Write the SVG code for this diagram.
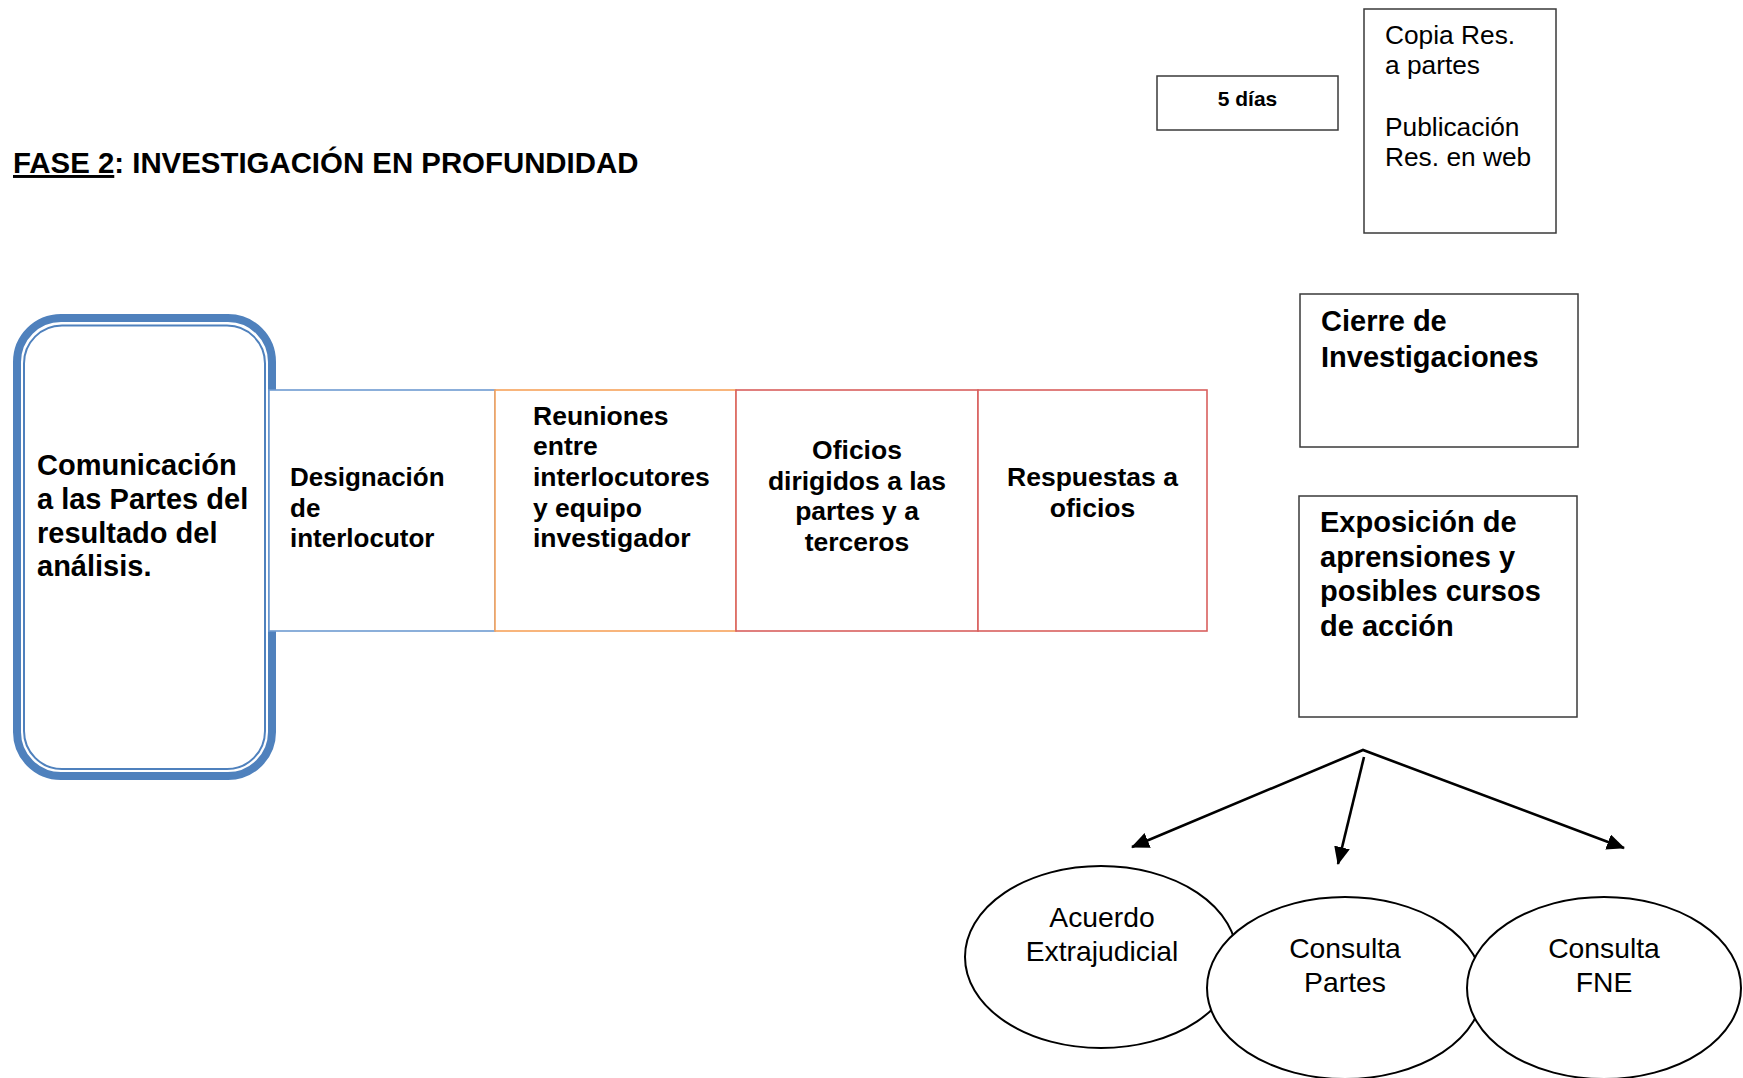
<svg xmlns="http://www.w3.org/2000/svg" width="1743" height="1078" viewBox="0 0 1743 1078">
<style>
  text { font-family: "Liberation Sans", Arial, sans-serif; fill: #000; }
  .b { font-weight: bold; }
  .box { fill: #fff; stroke: #3a3a3a; stroke-width: 1.5; }
  .blue { fill: #fff; stroke: #6F9BD1; stroke-width: 1.6; }
  .orange { fill: #fff; stroke: #F7A35C; stroke-width: 1.6; }
  .red { fill: #fff; stroke: #D9605E; stroke-width: 1.6; }
  .ell { fill: #fff; stroke: #000; stroke-width: 2; }
  .conn { fill: none; stroke: #000; stroke-width: 2.6; }
</style>
<defs>
  <marker id="ah" viewBox="0 0 18 16" refX="17" refY="8" markerWidth="18" markerHeight="16" markerUnits="userSpaceOnUse" orient="auto-start-reverse">
    <path d="M0,0 L18,8 L0,16 Z" fill="#000"/>
  </marker>
</defs>
<rect width="1743" height="1078" fill="#fff"/>

<g id="title">
  <text class="b" x="13" y="173" font-size="29.4"><tspan text-decoration="underline">FASE 2</tspan>: INVESTIGACIÓN EN PROFUNDIDAD</text>
</g>

<g id="cinco-dias">
  <rect class="box" x="1157" y="76" width="181" height="54"/>
  <text class="b" x="1247.5" y="106" font-size="21" text-anchor="middle">5 días</text>
</g>

<g id="copia">
  <rect class="box" x="1364" y="9" width="192" height="224"/>
  <text x="1385" y="44" font-size="26.3">Copia Res.</text>
  <text x="1385" y="74" font-size="26.3">a partes</text>
  <text x="1385" y="136" font-size="26.3">Publicación</text>
  <text x="1385" y="166" font-size="26.3">Res. en web</text>
</g>

<g id="cierre">
  <rect class="box" x="1300" y="294" width="278" height="153"/>
  <text class="b" x="1321" y="331" font-size="29">Cierre de</text>
  <text class="b" x="1321" y="367" font-size="29">Investigaciones</text>
</g>

<g id="exposicion">
  <rect class="box" x="1299" y="496" width="278" height="221"/>
  <text class="b" x="1320" y="532" font-size="29">Exposición de</text>
  <text class="b" x="1320" y="567" font-size="29">aprensiones y</text>
  <text class="b" x="1320" y="601" font-size="29">posibles cursos</text>
  <text class="b" x="1320" y="636" font-size="29">de acción</text>
</g>

<g id="comunicacion">
  <rect x="17" y="318" width="255" height="458" rx="44" ry="44" fill="#fff" stroke="#4F81BD" stroke-width="8"/>
  <rect x="24" y="325.5" width="241" height="443.5" rx="38" ry="38" fill="none" stroke="#4F81BD" stroke-width="2"/>
  <text class="b" x="37" y="475" font-size="29">Comunicación</text>
  <text class="b" x="37" y="509" font-size="29">a las Partes del</text>
  <text class="b" x="37" y="543" font-size="29">resultado del</text>
  <text class="b" x="37" y="576" font-size="29">análisis.</text>
</g>

<g id="designacion">
  <rect class="blue" x="269" y="390" width="226" height="241"/>
  <text class="b" x="290" y="486" font-size="26">Designación</text>
  <text class="b" x="290" y="517" font-size="26">de</text>
  <text class="b" x="290" y="547" font-size="26">interlocutor</text>
</g>

<g id="reuniones">
  <rect class="orange" x="495" y="390" width="241" height="241"/>
  <text class="b" x="533" y="425" font-size="26.5">Reuniones</text>
  <text class="b" x="533" y="455" font-size="26.5">entre</text>
  <text class="b" x="533" y="486" font-size="26.5">interlocutores</text>
  <text class="b" x="533" y="517" font-size="26.5">y equipo</text>
  <text class="b" x="533" y="547" font-size="26.5">investigador</text>
</g>

<g id="oficios">
  <rect class="red" x="736" y="390" width="242" height="241"/>
  <text class="b" x="857" y="459" font-size="26.5" text-anchor="middle">Oficios</text>
  <text class="b" x="857" y="490" font-size="26.5" text-anchor="middle">dirigidos a las</text>
  <text class="b" x="857" y="520" font-size="26.5" text-anchor="middle">partes y a</text>
  <text class="b" x="857" y="551" font-size="26.5" text-anchor="middle">terceros</text>
</g>

<g id="respuestas">
  <rect class="red" x="978" y="390" width="229" height="241"/>
  <text class="b" x="1092.5" y="486" font-size="26.5" text-anchor="middle">Respuestas a</text>
  <text class="b" x="1092.5" y="517" font-size="26.5" text-anchor="middle">oficios</text>
</g>

<g id="connectors">
  <polyline class="conn" points="1132,847 1363,750 1624,848" marker-start="url(#ah)" marker-end="url(#ah)"/>
  <line class="conn" x1="1364" y1="757" x2="1338" y2="864" marker-end="url(#ah)"/>
</g>

<g id="acuerdo">
  <ellipse class="ell" cx="1101" cy="957" rx="136" ry="91"/>
  <text x="1102" y="927" font-size="28.3" text-anchor="middle">Acuerdo</text>
  <text x="1102" y="961" font-size="28.3" text-anchor="middle">Extrajudicial</text>
</g>

<g id="consulta-partes">
  <ellipse class="ell" cx="1345" cy="988" rx="138" ry="91"/>
  <text x="1345" y="958" font-size="28.3" text-anchor="middle">Consulta</text>
  <text x="1345" y="992" font-size="28.3" text-anchor="middle">Partes</text>
</g>

<g id="consulta-fne">
  <ellipse class="ell" cx="1604" cy="988" rx="137" ry="91"/>
  <text x="1604" y="958" font-size="28.3" text-anchor="middle">Consulta</text>
  <text x="1604" y="992" font-size="28.3" text-anchor="middle">FNE</text>
</g>
</svg>
